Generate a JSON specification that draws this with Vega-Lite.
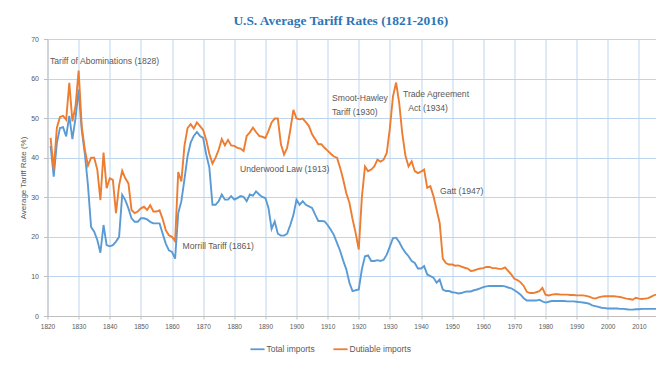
{
  "$schema": "https://vega.github.io/schema/vega-lite/v6.json",
  "autosize": "none",
  "width": 608.5,
  "height": 277,
  "padding": {"left": 47.5, "top": 39, "right": 0, "bottom": 50},
  "background": "white",
  "title": {
    "text": "U.S. Average Tariff Rates (1821-2016)",
    "font": "Liberation Serif",
    "fontWeight": "bold",
    "fontSize": 13.4,
    "color": "#2e75b6",
    "anchor": "middle",
    "dx": -11,
    "offset": 8
  },
  "config": {
    "font": "Liberation Sans, sans-serif",
    "view": {"stroke": null},
    "axis": {
      "gridColor": "#bdd5ee",
      "gridWidth": 1,
      "gridOpacity": 1,
      "domainColor": "#bfbfbf",
      "tickColor": "#bfbfbf",
      "labelColor": "#595959",
      "titleColor": "#595959",
      "labelOverlap": false,
      "labelFont": "Liberation Sans, sans-serif",
      "titleFont": "Liberation Sans, sans-serif"
    }
  },
  "datasets": {
    "tariffs": [
      {"year":1821,"Total imports":43,"Dutiable imports":45},
      {"year":1822,"Total imports":35.2,"Dutiable imports":37},
      {"year":1823,"Total imports":43.7,"Dutiable imports":47.5},
      {"year":1824,"Total imports":47.5,"Dutiable imports":50.3},
      {"year":1825,"Total imports":47.7,"Dutiable imports":50.6},
      {"year":1826,"Total imports":45.4,"Dutiable imports":49.6},
      {"year":1827,"Total imports":50.6,"Dutiable imports":58.9},
      {"year":1828,"Total imports":44.7,"Dutiable imports":49.2},
      {"year":1829,"Total imports":50,"Dutiable imports":53},
      {"year":1830,"Total imports":57.2,"Dutiable imports":62},
      {"year":1831,"Total imports":47,"Dutiable imports":48},
      {"year":1832,"Total imports":41,"Dutiable imports":42},
      {"year":1833,"Total imports":33,"Dutiable imports":38},
      {"year":1834,"Total imports":22.5,"Dutiable imports":40},
      {"year":1835,"Total imports":21.3,"Dutiable imports":40},
      {"year":1836,"Total imports":19.2,"Dutiable imports":37},
      {"year":1837,"Total imports":16,"Dutiable imports":29.3},
      {"year":1838,"Total imports":23,"Dutiable imports":41.3},
      {"year":1839,"Total imports":17.9,"Dutiable imports":32.3},
      {"year":1840,"Total imports":17.6,"Dutiable imports":34.8},
      {"year":1841,"Total imports":17.9,"Dutiable imports":34.4},
      {"year":1842,"Total imports":18.8,"Dutiable imports":26},
      {"year":1843,"Total imports":20,"Dutiable imports":33},
      {"year":1844,"Total imports":30.6,"Dutiable imports":36.7},
      {"year":1845,"Total imports":29.3,"Dutiable imports":34.8},
      {"year":1846,"Total imports":27.2,"Dutiable imports":33.5},
      {"year":1847,"Total imports":24.7,"Dutiable imports":26.8},
      {"year":1848,"Total imports":23.8,"Dutiable imports":26},
      {"year":1849,"Total imports":23.8,"Dutiable imports":26.4},
      {"year":1850,"Total imports":24.7,"Dutiable imports":27.2},
      {"year":1851,"Total imports":24.7,"Dutiable imports":27.6},
      {"year":1852,"Total imports":24.4,"Dutiable imports":26.8},
      {"year":1853,"Total imports":23.8,"Dutiable imports":28},
      {"year":1854,"Total imports":23.4,"Dutiable imports":26.4},
      {"year":1855,"Total imports":23.4,"Dutiable imports":26.4},
      {"year":1856,"Total imports":23.4,"Dutiable imports":26.7},
      {"year":1857,"Total imports":20.8,"Dutiable imports":24.5},
      {"year":1858,"Total imports":18.3,"Dutiable imports":21.7},
      {"year":1859,"Total imports":16.6,"Dutiable imports":20.4},
      {"year":1860,"Total imports":16.2,"Dutiable imports":20},
      {"year":1861,"Total imports":14.5,"Dutiable imports":18.9},
      {"year":1862,"Total imports":26,"Dutiable imports":36.4},
      {"year":1863,"Total imports":29,"Dutiable imports":34},
      {"year":1864,"Total imports":34.5,"Dutiable imports":43},
      {"year":1865,"Total imports":40.4,"Dutiable imports":47.5},
      {"year":1866,"Total imports":43.8,"Dutiable imports":48.5},
      {"year":1867,"Total imports":45.5,"Dutiable imports":47.4},
      {"year":1868,"Total imports":46.5,"Dutiable imports":48.9},
      {"year":1869,"Total imports":45.5,"Dutiable imports":48},
      {"year":1870,"Total imports":45,"Dutiable imports":47},
      {"year":1871,"Total imports":40.8,"Dutiable imports":44.5},
      {"year":1872,"Total imports":37.5,"Dutiable imports":41},
      {"year":1873,"Total imports":28.1,"Dutiable imports":38.5},
      {"year":1874,"Total imports":28.1,"Dutiable imports":40},
      {"year":1875,"Total imports":29,"Dutiable imports":42},
      {"year":1876,"Total imports":30.7,"Dutiable imports":44.7},
      {"year":1877,"Total imports":29.4,"Dutiable imports":43.1},
      {"year":1878,"Total imports":29.4,"Dutiable imports":44.5},
      {"year":1879,"Total imports":30.3,"Dutiable imports":43.1},
      {"year":1880,"Total imports":29.4,"Dutiable imports":43},
      {"year":1881,"Total imports":29.8,"Dutiable imports":42.5},
      {"year":1882,"Total imports":30.3,"Dutiable imports":42.3},
      {"year":1883,"Total imports":30.1,"Dutiable imports":41.7},
      {"year":1884,"Total imports":29,"Dutiable imports":45.5},
      {"year":1885,"Total imports":30.7,"Dutiable imports":46.4},
      {"year":1886,"Total imports":30.4,"Dutiable imports":47.6},
      {"year":1887,"Total imports":31.5,"Dutiable imports":46.5},
      {"year":1888,"Total imports":30.7,"Dutiable imports":45.5},
      {"year":1889,"Total imports":30.1,"Dutiable imports":45.3},
      {"year":1890,"Total imports":29.8,"Dutiable imports":45},
      {"year":1891,"Total imports":27.3,"Dutiable imports":46.8},
      {"year":1892,"Total imports":22,"Dutiable imports":48.9},
      {"year":1893,"Total imports":23.9,"Dutiable imports":49.9},
      {"year":1894,"Total imports":20.8,"Dutiable imports":49.9},
      {"year":1895,"Total imports":20.3,"Dutiable imports":43.4},
      {"year":1896,"Total imports":20.3,"Dutiable imports":40.8},
      {"year":1897,"Total imports":20.8,"Dutiable imports":42.5},
      {"year":1898,"Total imports":23,"Dutiable imports":47},
      {"year":1899,"Total imports":25.5,"Dutiable imports":52.1},
      {"year":1900,"Total imports":29.4,"Dutiable imports":49.9},
      {"year":1901,"Total imports":28.1,"Dutiable imports":49.7},
      {"year":1902,"Total imports":29,"Dutiable imports":49.9},
      {"year":1903,"Total imports":28.1,"Dutiable imports":49},
      {"year":1904,"Total imports":27.7,"Dutiable imports":48},
      {"year":1905,"Total imports":27.3,"Dutiable imports":45.9},
      {"year":1906,"Total imports":25.6,"Dutiable imports":44.7},
      {"year":1907,"Total imports":24,"Dutiable imports":43.4},
      {"year":1908,"Total imports":24,"Dutiable imports":43.4},
      {"year":1909,"Total imports":23.9,"Dutiable imports":42.5},
      {"year":1910,"Total imports":23,"Dutiable imports":41.8},
      {"year":1911,"Total imports":21.8,"Dutiable imports":41},
      {"year":1912,"Total imports":20.5,"Dutiable imports":40.3},
      {"year":1913,"Total imports":18.5,"Dutiable imports":40},
      {"year":1914,"Total imports":16.5,"Dutiable imports":37.5},
      {"year":1915,"Total imports":14,"Dutiable imports":34.5},
      {"year":1916,"Total imports":11.8,"Dutiable imports":31},
      {"year":1917,"Total imports":8.4,"Dutiable imports":28.6},
      {"year":1918,"Total imports":6.3,"Dutiable imports":24.5},
      {"year":1919,"Total imports":6.5,"Dutiable imports":21},
      {"year":1920,"Total imports":6.7,"Dutiable imports":16.8},
      {"year":1921,"Total imports":11.8,"Dutiable imports":30},
      {"year":1922,"Total imports":15.1,"Dutiable imports":37.8},
      {"year":1923,"Total imports":15.3,"Dutiable imports":36.6},
      {"year":1924,"Total imports":13.9,"Dutiable imports":37},
      {"year":1925,"Total imports":13.9,"Dutiable imports":37.8},
      {"year":1926,"Total imports":14.1,"Dutiable imports":39.5},
      {"year":1927,"Total imports":13.9,"Dutiable imports":39},
      {"year":1928,"Total imports":14.2,"Dutiable imports":39.5},
      {"year":1929,"Total imports":15.5,"Dutiable imports":41.2},
      {"year":1930,"Total imports":17.6,"Dutiable imports":47.5},
      {"year":1931,"Total imports":19.7,"Dutiable imports":55.5},
      {"year":1932,"Total imports":19.8,"Dutiable imports":59},
      {"year":1933,"Total imports":18.7,"Dutiable imports":53.8},
      {"year":1934,"Total imports":17.2,"Dutiable imports":46},
      {"year":1935,"Total imports":16,"Dutiable imports":40.5},
      {"year":1936,"Total imports":15.1,"Dutiable imports":37.8},
      {"year":1937,"Total imports":13.9,"Dutiable imports":39.1},
      {"year":1938,"Total imports":13.4,"Dutiable imports":36.6},
      {"year":1939,"Total imports":12,"Dutiable imports":36.1},
      {"year":1940,"Total imports":12,"Dutiable imports":36.5},
      {"year":1941,"Total imports":12.6,"Dutiable imports":37},
      {"year":1942,"Total imports":10.5,"Dutiable imports":32.4},
      {"year":1943,"Total imports":10.1,"Dutiable imports":32.8},
      {"year":1944,"Total imports":9.7,"Dutiable imports":30.3},
      {"year":1945,"Total imports":8.4,"Dutiable imports":26.9},
      {"year":1946,"Total imports":9.2,"Dutiable imports":23.5},
      {"year":1947,"Total imports":6.7,"Dutiable imports":14.5},
      {"year":1948,"Total imports":6.3,"Dutiable imports":13.4},
      {"year":1949,"Total imports":6.3,"Dutiable imports":13},
      {"year":1950,"Total imports":6,"Dutiable imports":13},
      {"year":1951,"Total imports":5.9,"Dutiable imports":12.7},
      {"year":1952,"Total imports":5.7,"Dutiable imports":12.8},
      {"year":1953,"Total imports":5.8,"Dutiable imports":12.5},
      {"year":1954,"Total imports":6.1,"Dutiable imports":12.2},
      {"year":1955,"Total imports":6.2,"Dutiable imports":12},
      {"year":1956,"Total imports":6.2,"Dutiable imports":11.4},
      {"year":1957,"Total imports":6.5,"Dutiable imports":11.5},
      {"year":1958,"Total imports":6.7,"Dutiable imports":11.8},
      {"year":1959,"Total imports":7,"Dutiable imports":12},
      {"year":1960,"Total imports":7.3,"Dutiable imports":12.1},
      {"year":1961,"Total imports":7.5,"Dutiable imports":12.4},
      {"year":1962,"Total imports":7.6,"Dutiable imports":12.4},
      {"year":1963,"Total imports":7.6,"Dutiable imports":12.1},
      {"year":1964,"Total imports":7.6,"Dutiable imports":12.1},
      {"year":1965,"Total imports":7.6,"Dutiable imports":11.9},
      {"year":1966,"Total imports":7.6,"Dutiable imports":11.9},
      {"year":1967,"Total imports":7.5,"Dutiable imports":12.3},
      {"year":1968,"Total imports":7.2,"Dutiable imports":11.4},
      {"year":1969,"Total imports":7,"Dutiable imports":10.5},
      {"year":1970,"Total imports":6.5,"Dutiable imports":9.4},
      {"year":1971,"Total imports":6,"Dutiable imports":9.1},
      {"year":1972,"Total imports":5.4,"Dutiable imports":8.5},
      {"year":1973,"Total imports":4.5,"Dutiable imports":7.6},
      {"year":1974,"Total imports":3.9,"Dutiable imports":6.1},
      {"year":1975,"Total imports":3.9,"Dutiable imports":5.8},
      {"year":1976,"Total imports":3.9,"Dutiable imports":5.8},
      {"year":1977,"Total imports":3.9,"Dutiable imports":6},
      {"year":1978,"Total imports":4.1,"Dutiable imports":6.3},
      {"year":1979,"Total imports":3.7,"Dutiable imports":7.1},
      {"year":1980,"Total imports":3.4,"Dutiable imports":5.4},
      {"year":1981,"Total imports":3.6,"Dutiable imports":5.2},
      {"year":1982,"Total imports":3.8,"Dutiable imports":5.4},
      {"year":1983,"Total imports":3.8,"Dutiable imports":5.5},
      {"year":1984,"Total imports":3.8,"Dutiable imports":5.5},
      {"year":1985,"Total imports":3.8,"Dutiable imports":5.4},
      {"year":1986,"Total imports":3.8,"Dutiable imports":5.4},
      {"year":1987,"Total imports":3.7,"Dutiable imports":5.4},
      {"year":1988,"Total imports":3.7,"Dutiable imports":5.3},
      {"year":1989,"Total imports":3.7,"Dutiable imports":5.3},
      {"year":1990,"Total imports":3.6,"Dutiable imports":5.2},
      {"year":1991,"Total imports":3.5,"Dutiable imports":5.2},
      {"year":1992,"Total imports":3.4,"Dutiable imports":5.2},
      {"year":1993,"Total imports":3.3,"Dutiable imports":5.1},
      {"year":1994,"Total imports":3.1,"Dutiable imports":4.9},
      {"year":1995,"Total imports":2.7,"Dutiable imports":4.6},
      {"year":1996,"Total imports":2.5,"Dutiable imports":4.4},
      {"year":1997,"Total imports":2.3,"Dutiable imports":4.7},
      {"year":1998,"Total imports":2.1,"Dutiable imports":4.9},
      {"year":1999,"Total imports":2,"Dutiable imports":5},
      {"year":2000,"Total imports":1.9,"Dutiable imports":5},
      {"year":2001,"Total imports":1.9,"Dutiable imports":5},
      {"year":2002,"Total imports":1.9,"Dutiable imports":5},
      {"year":2003,"Total imports":1.9,"Dutiable imports":4.9},
      {"year":2004,"Total imports":1.8,"Dutiable imports":4.8},
      {"year":2005,"Total imports":1.8,"Dutiable imports":4.6},
      {"year":2006,"Total imports":1.7,"Dutiable imports":4.4},
      {"year":2007,"Total imports":1.6,"Dutiable imports":4.3},
      {"year":2008,"Total imports":1.6,"Dutiable imports":4.1},
      {"year":2009,"Total imports":1.7,"Dutiable imports":4.6},
      {"year":2010,"Total imports":1.7,"Dutiable imports":4.4},
      {"year":2011,"Total imports":1.8,"Dutiable imports":4.3},
      {"year":2012,"Total imports":1.8,"Dutiable imports":4.4},
      {"year":2013,"Total imports":1.8,"Dutiable imports":4.5},
      {"year":2014,"Total imports":1.8,"Dutiable imports":4.9},
      {"year":2015,"Total imports":1.8,"Dutiable imports":5.3},
      {"year":2016,"Total imports":1.8,"Dutiable imports":5.5}
    ],
    "notes": [
      {"year":1820.8,"rate":64.4,"label":"Tariff of Abominations (1828)"},
      {"year":1863.4,"rate":17.8,"label":"Morrill Tariff  (1861)"},
      {"year":1881.85,"rate":37.15,"label":"Underwood Law (1913)"},
      {"year":1911.4,"rate":55.0,"label":"Smoot-Hawley"},
      {"year":1911.4,"rate":51.5,"label":"Tariff (1930)"},
      {"year":1934.2,"rate":56.1,"label":"Trade Agreement"},
      {"year":1935.9,"rate":52.6,"label":"Act (1934)"},
      {"year":1946.1,"rate":31.6,"label":"Gatt (1947)"}
    ]
  },
  "layer": [
    {
      "data": {"name": "tariffs"},
      "transform": [{"fold": ["Total imports", "Dutiable imports"], "as": ["series", "rate"]}],
      "mark": {"type": "line", "strokeWidth": 1.9, "clip": true},
      "encoding": {
        "x": {
          "field": "year", "type": "quantitative",
          "scale": {"domain": [1820, 2015.5], "nice": false, "zero": false},
          "axis": {
            "title": null,
            "values": [1820,1830,1840,1850,1860,1870,1880,1890,1900,1910,1920,1930,1940,1950,1960,1970,1980,1990,2000,2010],
            "tickCount": 40,
            "format": "d",
            "labelFontSize": 6.5,
            "labelPadding": 4,
            "tickSize": 3,
            "labelFlush": false
          }
        },
        "y": {
          "field": "rate", "type": "quantitative",
          "scale": {"domain": [0, 70], "nice": false},
          "axis": {
            "title": "Average Tariff Rate (%)",
            "values": [0,10,20,30,40,50,60,70],
            "tickCount": 20,
            "labelFontSize": 7,
            "labelPadding": 5,
            "tickSize": 4,
            "titleFontSize": 8,
            "titleFontWeight": "normal",
            "titleX": -24,
            "titleY": 138.5,
            "titleBaseline": "middle",
            "titleAlign": "center"
          }
        },
        "color": {
          "field": "series", "type": "nominal",
          "scale": {"domain": ["Total imports", "Dutiable imports"], "range": ["#5b9bd5", "#ed7d31"]},
          "legend": {
            "title": null,
            "orient": "none",
            "direction": "horizontal",
            "legendX": 202,
            "legendY": 302,
            "symbolType": "stroke",
            "symbolSize": 200,
            "symbolStrokeWidth": 1.8,
            "labelFontSize": 8.5,
            "labelColor": "#595959",
            "labelOffset": 1,
            "columnPadding": 14
          }
        },
        "order": {"field": "series", "sort": "descending"}
      }
    },
    {
      "data": {"name": "notes"},
      "mark": {"type": "text", "align": "left", "baseline": "middle", "fontSize": 8.6, "color": "#595959"},
      "encoding": {
        "x": {"field": "year", "type": "quantitative"},
        "y": {"field": "rate", "type": "quantitative"},
        "text": {"field": "label"}
      }
    }
  ]
}
